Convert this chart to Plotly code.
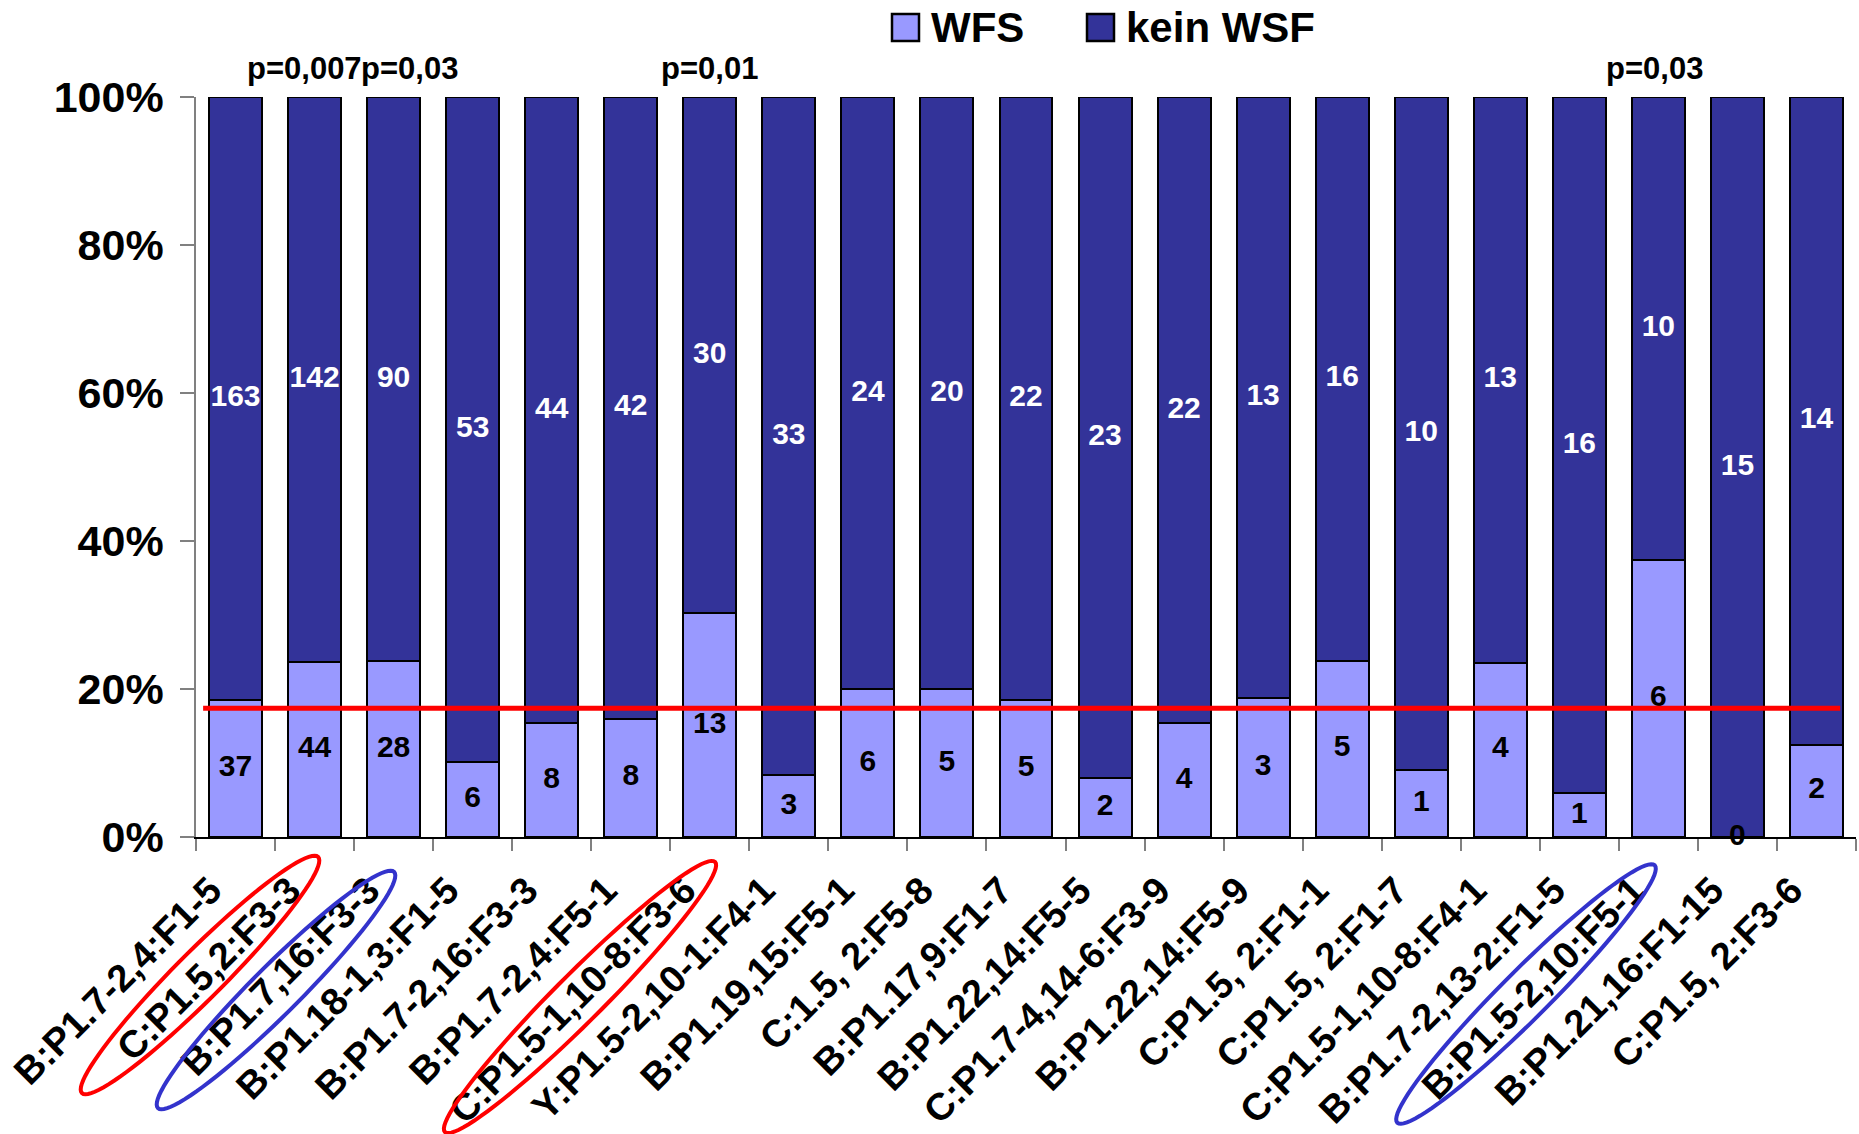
import math
import plotly.graph_objects as go

# Strain combinations (x categories)
categories = [
    "B:P1.7-2,4:F1-5", "C:P1.5,2:F3-3", "B:P1.7,16:F3-3", "B:P1.18-1,3:F1-5",
    "B:P1.7-2,16:F3-3", "B:P1.7-2,4:F5-1", "C:P1.5-1,10-8:F3-6", "Y:P1.5-2,10-1:F4-1",
    "B:P1.19,15:F5-1", "C:1.5, 2:F5-8", "B:P1.17,9:F1-7", "B:P1.22,14:F5-5",
    "C:P1.7-4,14-6:F3-9", "B:P1.22,14:F5-9", "C:P1.5, 2:F1-1", "C:P1.5, 2:F1-7",
    "C:P1.5-1,10-8:F4-1", "B:P1.7-2,13-2:F1-5", "B:P1.5-2,10:F5-1", "B:P1.21,16:F1-15",
    "C:P1.5, 2:F3-6",
]

# Case counts per category
wfs_counts = [37, 44, 28, 6, 8, 8, 13, 3, 6, 5, 5, 2, 4, 3, 5, 1, 4, 1, 6, 0, 2]
kein_wsf_counts = [163, 142, 90, 53, 44, 42, 30, 33, 24, 20, 22, 23, 22, 13, 16, 10, 13, 16, 10, 15, 14]

# Significance labels placed above selected bars
p_value_labels = {
    "C:P1.5,2:F3-3": "p=0,007",
    "B:P1.7,16:F3-3": "p=0,03",
    "C:P1.5-1,10-8:F3-6": "p=0,01",
    "B:P1.5-2,10:F5-1": "p=0,03",
}

# Overall reference share of WFS (%)
reference_share = 17.4

y_ticks = [0, 20, 40, 60, 80, 100]

LIGHT = "#9999FF"
DARK = "#333399"
FONT = "Liberation Sans"

totals = [a + b for a, b in zip(wfs_counts, kein_wsf_counts)]
wfs_pct = [100.0 * a / t for a, t in zip(wfs_counts, totals)]
kein_pct = [100.0 * b / t for b, t in zip(kein_wsf_counts, totals)]
wfs_mid = [p / 2 for p in wfs_pct]
kein_mid = [w + k / 2 for w, k in zip(wfs_pct, kein_pct)]

fig = go.Figure()
fig.add_bar(x=categories, y=wfs_pct, name="WFS", marker=dict(color=LIGHT, line=dict(color="black", width=2)),
            showlegend=False)
fig.add_bar(x=categories, y=kein_pct, name="kein WSF", marker=dict(color=DARK, line=dict(color="black", width=2)),
            showlegend=False)

# Count labels centred in each segment
fig.add_scatter(x=categories, y=wfs_mid, mode="text", text=[str(v) for v in wfs_counts],
                textfont=dict(family=FONT, size=30, color="black", weight="bold"),
                showlegend=False, hoverinfo="skip", cliponaxis=False)
fig.add_scatter(x=categories, y=kein_mid, mode="text", text=[str(v) for v in kein_wsf_counts],
                textfont=dict(family=FONT, size=30, color="white", weight="bold"),
                showlegend=False, hoverinfo="skip", cliponaxis=False)

# Reference line
fig.add_shape(type="line", xref="x", yref="y", x0=-0.41, x1=20.3, y0=reference_share, y1=reference_share,
              line=dict(color="#FF0000", width=5), layer="above")

# Plot-area geometry (pixels) used for decorations outside the axes
W, H = 1859, 1134
L, R, T, B = 196, 3, 97, 297
PW, PH = W - L - R, H - T - B


def to_paper(px, py):
    return (px - L) / PW, (H - B - py) / PH


def ellipse_path(cx, cy, a, b, angle_deg=45, n=90):
    th = math.radians(angle_deg)
    ux, uy = math.cos(th), -math.sin(th)
    vx, vy = math.sin(th), math.cos(th)
    pts = []
    for k in range(n):
        t = 2 * math.pi * k / n
        px = cx + a * math.cos(t) * ux + b * math.sin(t) * vx
        py = cy + a * math.cos(t) * uy + b * math.sin(t) * vy
        pts.append(to_paper(px, py))
    return "M " + " L ".join(f"{x:.5f},{y:.5f}" for x, y in pts) + " Z"


# Highlight rings around selected category labels
rings = [
    (200, 975, 167, 24, "#FF0000"),
    (276, 990, 167, 24, "#3333CC"),
    (580, 997, 191, 24, "#FF0000"),
    (1526, 994, 182, 24, "#3333CC"),
]
for cx, cy, a, b, col in rings:
    fig.add_shape(type="path", xref="paper", yref="paper", path=ellipse_path(cx, cy, a, b),
                  line=dict(color=col, width=4), fillcolor="rgba(0,0,0,0)", layer="above")

# p-value annotations
p_shift = {"C:P1.5,2:F3-3": -10, "B:P1.7,16:F3-3": 16, "B:P1.5-2,10:F5-1": -4}
for cat, lab in p_value_labels.items():
    fig.add_annotation(x=cat, xref="x", y=to_paper(0, 68)[1], yref="paper", text=lab, showarrow=False,
                       xanchor="center", yanchor="middle", xshift=p_shift.get(cat, 0),
                       font=dict(family=FONT, size=31, color="black", weight="bold"))

# Legend
legend_items = [("WFS", LIGHT, 892), ("kein WSF", DARK, 1087)]
for name, col, sx in legend_items:
    x0, y0 = to_paper(sx, 41)
    x1, y1 = to_paper(sx + 27, 14)
    fig.add_shape(type="rect", xref="paper", yref="paper", x0=x0, x1=x1, y0=y0, y1=y1,
                  fillcolor=col, line=dict(color="black", width=2.5))
    tx, ty = to_paper(sx + 37, 27)
    fig.add_annotation(x=tx, y=ty, xref="paper", yref="paper", text=name, showarrow=False,
                       xanchor="left", yanchor="middle",
                       font=dict(family=FONT, size=42, color="black", weight="bold"))

fig.update_layout(
    width=W, height=H, autosize=False,
    margin=dict(l=L, r=R, t=T, b=B, pad=0),
    barmode="stack", bargap=0.33,
    plot_bgcolor="white", paper_bgcolor="white",
    showlegend=False,
    font=dict(family=FONT, color="black"),
)
fig.update_xaxes(
    type="category", range=[-0.5, len(categories) - 0.5],
    showline=True, linecolor="black", linewidth=1.5,
    ticks="outside", tickson="boundaries", ticklen=12, tickcolor="#808080", tickwidth=1.5,
    tickangle=-45, tickfont=dict(family=FONT, size=38, color="black", weight="bold"),
    ticklabelshift=-25, ticklabelstandoff=14,
    showgrid=False, zeroline=False,
)
fig.update_yaxes(
    range=[0, 100], tickvals=y_ticks, ticktext=[f"{v}%" for v in y_ticks],
    showline=True, linecolor="#808080", linewidth=1.5,
    ticks="outside", ticklen=14, tickcolor="#808080", tickwidth=1.5, ticklabelstandoff=8,
    tickfont=dict(family=FONT, size=43, color="black", weight="bold"),
    showgrid=False, zeroline=False,
)

fig.write_html("out.html")
